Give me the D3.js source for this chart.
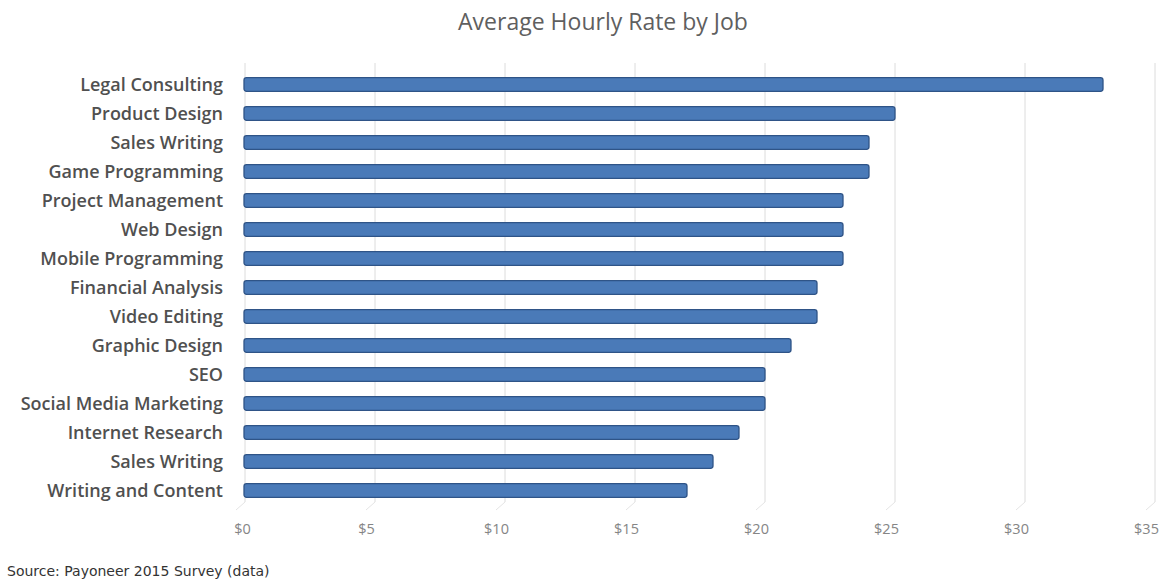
<!DOCTYPE html>
<html>
<head>
<meta charset="utf-8">
<script src="https://cdn.jsdelivr.net/npm/d3@7"></script>
<style>
  body { margin: 0; background: #fff; }
  svg { display: block; }
</style>
</head>
<body>
<div id="chart"></div>
<script>
// Average hourly rate by job (Payoneer 2015 survey)
const jobs = [
  'Legal Consulting', 'Product Design', 'Sales Writing', 'Game Programming',
  'Project Management', 'Web Design', 'Mobile Programming', 'Financial Analysis',
  'Video Editing', 'Graphic Design', 'SEO', 'Social Media Marketing',
  'Internet Research', 'Sales Writing ', 'Writing and Content'
];
const rates = [33, 25, 24, 24, 23, 23, 23, 22, 22, 21, 20, 20, 19, 18, 17];
const xTicks = [0, 5, 10, 15, 20, 25, 30, 35];

const data = jobs.map((name, i) => ({name, rate: rates[i]}));

const W = 1162, H = 579;
const margin = {top: 70, left: 245};
const width = 1155 - margin.left;
const height = 505 - margin.top;

const svg = d3.select('#chart')
  .append('svg')
  .attr('width', W)
  .attr('height', H);

const g = svg.append('g')
  .attr('transform', `translate(${margin.left},${margin.top})`);

const x = d3.scaleLinear()
  .domain([0, 35])
  .range([0, width]);

const y = d3.scaleBand()
  .domain(jobs)
  .range([0, height])
  .paddingInner(0.53)
  .paddingOuter(0.265);

// Gridlines with a small perspective foot
const grid = g.append('g');
xTicks.forEach(t => {
  grid.append('line')
    .attr('x1', x(t)).attr('x2', x(t))
    .attr('y1', -7).attr('y2', height - 3)
    .attr('stroke', '#dcdcdc')
    .attr('stroke-width', 1);
  grid.append('line')
    .attr('x1', x(t)).attr('x2', x(t) - 9)
    .attr('y1', height - 3).attr('y2', height + 5)
    .attr('stroke', '#e4e4e4')
    .attr('stroke-width', 1);
});

// Bars
g.selectAll('rect.bar')
  .data(data)
  .enter()
  .append('rect')
  .attr('class', 'bar')
  .attr('x', -1)
  .attr('y', d => y(d.name))
  .attr('width', d => x(d.rate) + 1)
  .attr('height', y.bandwidth())
  .attr('rx', 2.5)
  .attr('fill', '#4a7ab8')
  .attr('stroke', '#2f5487')
  .attr('stroke-width', 1.3);

// Category labels
g.append('g')
  .call(d3.axisLeft(y).tickSize(0).tickPadding(22))
  .call(a => a.select('.domain').remove())
  .selectAll('text')
  .attr('dy', '0.38em')
  .style('font-family', '"Open Sans", sans-serif')
  .style('font-size', '18px')
  .style('font-weight', '600')
  .style('fill', '#505050');

// Value axis labels
g.append('g')
  .attr('transform', `translate(0,${height})`)
  .call(d3.axisBottom(x).tickValues(xTicks).tickSize(0).tickPadding(19).tickFormat(d => '$' + d))
  .call(a => a.select('.domain').remove())
  .selectAll('text')
  .attr('dx', d => d === 0 ? -3 : -9)
  .style('font-family', '"Open Sans", sans-serif')
  .style('font-size', '14.5px')
  .style('fill', '#858585');

// Title
svg.append('text')
  .attr('x', 603)
  .attr('y', 30)
  .attr('text-anchor', 'middle')
  .style('font-family', '"Open Sans", sans-serif')
  .style('font-size', '23px')
  .style('fill', '#5f5f5f')
  .text('Average Hourly Rate by Job');

// Source note
svg.append('text')
  .attr('x', 7)
  .attr('y', 576)
  .style('font-family', '"DejaVu Sans", sans-serif')
  .style('font-size', '14px')
  .style('fill', '#333')
  .text('Source: Payoneer 2015 Survey (data)');
</script>
</body>
</html>
